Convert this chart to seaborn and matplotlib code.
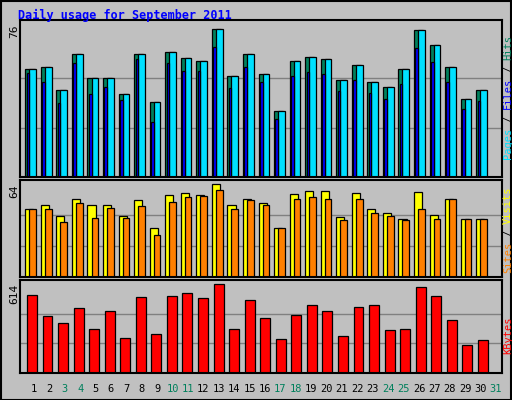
import matplotlib
matplotlib.use("Agg")
import matplotlib.pyplot as plt
import seaborn as sns
import numpy as np

# Data
days = list(range(1, 32))
weekend_days = [3, 4, 10, 11, 17, 18, 24, 25, 31]
hits = [55.3, 56.4, 44.5, 63, 51, 51, 42.4, 63, 38.3, 64, 61, 59.5, 76, 52, 63,
        53, 34, 59.5, 61.5, 60.5, 50, 57.4, 49, 46, 55.3, 75.5, 68, 56.4, 40, 44.5, 0]
files = [53.3, 49, 38, 58.4, 42.4, 46, 39.3, 60.5, 28.4, 58.4, 54.3, 54.3, 67, 45.5, 56.4,
         49, 30, 52, 54, 53, 44, 50, 43, 40, 48, 66, 59, 49, 35, 39, 0]
pages = [55.3, 56.4, 44.5, 63, 51, 51, 42.4, 63, 38.3, 64, 61, 59.5, 76, 52, 63,
         53, 34, 59.5, 61.5, 60.5, 50, 57.4, 49, 46, 55.3, 75.5, 68, 56.4, 40, 44.5, 0]
visits = [47, 49.8, 42, 54, 49.8, 49.8, 42, 53.3, 33.8, 56.7, 58, 56.7, 63.7, 49.8, 54,
          51, 34, 57, 59, 59, 41, 57.6, 46.5, 43.7, 39.6, 58.3, 43, 54, 40, 40, 0]
sites = [46.5, 47, 38, 51, 40.8, 47.7, 40.8, 49, 29, 51.9, 55.3, 56, 60.2, 47, 53.3,
         49.8, 34, 53.5, 55, 54, 39, 54, 43.7, 41.7, 39, 46.5, 40, 53.5, 40, 40, 0]
kbytes = [537, 391, 342, 447, 307, 426, 244, 523, 272, 530, 551, 516, 614, 307, 502,
          377, 237, 398, 468, 426, 258, 454, 468, 300, 307, 593, 530, 363, 195, 230, 0]

BG = "#C0C0C0"
C_HITS, C_FILES, C_PAGES = "#00805C", "#0000FF", "#00E0FF"
C_VISITS, C_SITES, C_KB = "#FFFF00", "#FF8000", "#FF0000"
MONO = "DejaVu Sans Mono"

sns.set_theme(style="white")
plt.rcParams["font.family"] = [MONO]

fig = plt.figure(figsize=(5.12, 4.0), dpi=100, facecolor=BG)
x = np.array(days) - 0.5  # left edge of each day slot

AX_L, AX_R = 20, 502


def make_ax(top_px, bot_px, maxval, maxpix):
    ax = fig.add_axes([AX_L / 512, 1 - bot_px / 400, (AX_R - AX_L) / 512,
                       (bot_px - top_px) / 400])
    ax.set_facecolor(BG)
    ax.set_xlim(0.5, 31.5)
    ax.set_ylim(0, maxval * (bot_px - top_px) / maxpix)
    for frac in (1 / 3, 2 / 3):
        ax.axhline(maxval * frac, color="#808080", lw=1, zorder=0)
    ax.set_xticks([])
    ax.set_yticks([])
    for s in ax.spines.values():
        s.set_color("black")
        s.set_linewidth(1.5)
    fig.text(14 / 512, 1 - (top_px + 4) / 400, str(maxval), rotation=90, ha="center",
             va="top", fontsize=8, color="black")
    return ax


kw = dict(align="edge", edgecolor="black", linewidth=0.9)

ax1 = make_ax(20, 177, 76, 148)
ax1.bar(x + 0.34, hits, width=0.6, color=C_HITS, **kw)
ax1.bar(x + 0.6, pages, width=0.43, color=C_PAGES, **kw)
ax1.bar(x + 0.43, files, width=0.17, color=C_FILES, **kw)

ax2 = make_ax(180, 277, 64, 93)
ax2.bar(x + 0.34, visits, width=0.52, color=C_VISITS, **kw)
ax2.bar(x + 0.6, sites, width=0.43, color=C_SITES, **kw)

ax3 = make_ax(280, 373, 614, 89)
ax3.bar(x + 0.45, kbytes, width=0.64, color=C_KB, **kw)

for d in days:
    fig.text((34 + (d - 1) * 15.4) / 512, 1 - 389 / 400, str(d), ha="center",
             va="center", fontsize=7.5,
             color=C_HITS if d in weekend_days else "black")

fig.text(18 / 512, 1 - 15 / 400, "Daily usage for September 2011", color="#0000FF",
         fontsize=8.5, fontweight="bold", va="center")


def side_label(parts, y_center_px):
    # stack coloured words bottom-to-top, rotated
    total = sum(len(p) for p, _ in parts)
    ch = 6.2
    y = 400 - y_center_px - total * ch / 2
    for txt, col in parts:
        fig.text(508 / 512, y / 400, txt, rotation=90, color=col, fontsize=7.5,
                 ha="center", va="bottom")
        y += len(txt) * ch


side_label([("Pages", C_PAGES), (" / ", "black"), ("Files", C_FILES),
            (" / ", "black"), ("Hits", C_HITS)], 97)
side_label([("Sites", C_SITES), (" / ", "black"), ("Visits", C_VISITS)], 230)
side_label([("KBytes", C_KB)], 335)

# outer frame
fig.patches.append(plt.Rectangle((0.001, 0.001), 0.997, 0.997, transform=fig.transFigure,
                                 fill=False, edgecolor="black", lw=1.5))

fig.savefig("out.png", dpi=100, facecolor=BG)
